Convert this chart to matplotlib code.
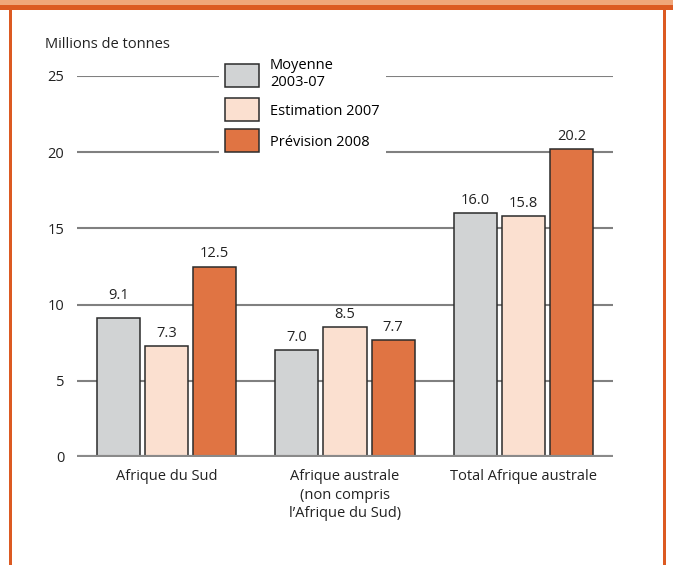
import matplotlib
matplotlib.use('Agg')
import matplotlib.pyplot as plt
import numpy as np
from matplotlib.patches import Rectangle, Patch

plt.rcParams['font.family'] = ['Open Sans', 'DejaVu Sans']

# donnees
regions = ['Afrique du Sud', 'Afrique australe\n(non compris\nl\u2019Afrique du Sud)', 'Total Afrique australe']
series = ['Moyenne\n2003-07', 'Estimation 2007', 'Pr\u00e9vision 2008']
moyenne = [9.1, 7.0, 16.0]
estimation = [7.3, 8.5, 15.8]
prevision = [12.5, 7.7, 20.2]
colors = ['#d1d3d4', '#fbe0d0', '#e07443']
grid_vals = [5, 10, 15, 20, 25]

fs = 10.5

fig = plt.figure(figsize=(6.73, 5.65), dpi=100)

# cadre orange
fig.patches.append(Rectangle((0, 1 - 5/565), 1, 5/565, transform=fig.transFigure,
                             facecolor='#f0a67a', edgecolor='none'))
fig.patches.append(Rectangle((0, 1 - 10/565), 1, 5/565, transform=fig.transFigure,
                             facecolor='#dc5a22', edgecolor='none'))
fig.patches.append(Rectangle((9/673, 0), 2.5/673, 1 - 10/565, transform=fig.transFigure,
                             facecolor='#dc5a22', edgecolor='none'))
fig.patches.append(Rectangle((663/673, 0), 2.5/673, 1 - 10/565, transform=fig.transFigure,
                             facecolor='#dc5a22', edgecolor='none'))

ax = fig.add_axes([77/673, 108/565, 536/673, 381/565])

x = np.arange(len(regions))
w = 0.241
off = 0.269
gap = 0.33   # ecart entre barre et etiquette
txt_h = 0.75
for i, vals in enumerate([moyenne, estimation, prevision]):
    pos = x + (i - 1) * off
    ax.bar(pos, vals, w, color=colors[i], edgecolor='#2b2b2b', linewidth=1.1, zorder=3)
    for p, v in zip(pos, vals):
        ylab = v + gap
        # eviter qu'une ligne de grille traverse l'etiquette
        for g in grid_vals:
            if ylab - 0.1 < g < ylab + txt_h:
                ylab = g + 0.08
        ax.text(p, ylab, f'{v:.1f}', ha='center', va='bottom', fontsize=fs, color='#222222')

ax.set_xlim(-0.5, 2.5)
ax.set_ylim(0, 25)
ax.set_yticks([0] + grid_vals)
ax.set_xticks(x)
ax.set_xticklabels(regions, fontsize=fs, color='#222222', va='top', linespacing=1.3)
ax.tick_params(axis='both', length=0, labelsize=fs, colors='#222222')
ax.tick_params(axis='y', pad=9)
ax.tick_params(axis='x', pad=9)
for s in ax.spines.values():
    s.set_visible(False)
for yv in grid_vals:
    ax.axhline(yv, color='#808080', linewidth=1.5, zorder=1)
ax.axhline(0, color='#8a8a8a', linewidth=3, zorder=4)

fig.text(45/673, 1 - 45/565, 'Millions de tonnes', fontsize=fs, color='#222222', va='center')

handles = [Patch(facecolor=c, edgecolor='#2b2b2b', linewidth=1.1) for c in colors]
leg = ax.legend(handles, series, loc='upper left', bbox_to_anchor=(0.265, 1.062),
                frameon=True, fontsize=fs, handlelength=2.35, handleheight=2.05,
                handletextpad=0.75, labelspacing=0.55, borderpad=0.4, borderaxespad=0)
leg.get_frame().set_facecolor('white')
leg.get_frame().set_edgecolor('none')
leg.get_frame().set_alpha(1)
leg.set_zorder(5)

fig.savefig('out.png', dpi=100)
